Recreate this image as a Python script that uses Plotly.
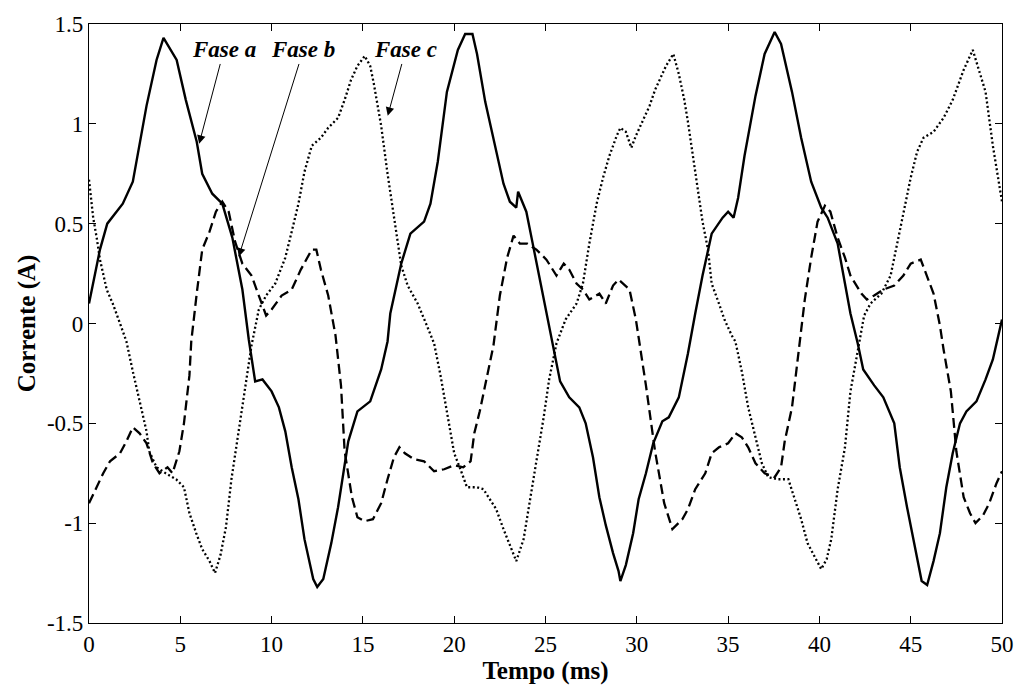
import plotly.graph_objects as go

# Phase a (solid)
t_a = [0.0, 0.6, 1.0, 1.85, 2.4, 3.15, 3.7, 4.08, 4.8, 5.3, 5.9, 6.2, 6.75, 7.3, 7.85, 8.4, 8.75,
       9.1, 9.5, 10.0, 10.4, 10.75, 11.1, 11.47, 11.8, 12.28, 12.5, 12.83, 13.27, 13.64, 14.2, 14.7,
       15.4, 16.0, 16.35, 16.5, 17.1, 17.6, 18.35, 18.7, 19.1, 19.6, 20.2, 20.6, 21.0, 21.25, 21.7,
       22.2, 22.7, 23.05, 23.4, 23.5, 23.95, 24.3, 24.7, 25.05, 25.4, 25.8, 26.3, 26.85, 27.2, 27.6,
       27.95, 28.3, 28.7, 29.0, 29.1, 29.4, 29.8, 30.1, 30.5, 30.9, 31.4, 31.75, 32.3, 32.8, 33.2,
       33.6, 34.1, 34.7, 35.0, 35.3, 35.55, 35.9, 36.5, 37.0, 37.55, 37.9, 38.5, 39.0, 39.55, 40.1,
       40.45, 41.0, 41.4, 41.7, 42.1, 42.4, 43.0, 43.5, 44.1, 44.4, 44.8, 45.2, 45.6, 45.9, 46.25,
       46.6, 46.95, 47.3, 47.7, 48.05, 48.6, 49.1, 49.5, 50.0]
i_a = [0.10, 0.37, 0.50, 0.60, 0.71, 1.09, 1.32, 1.43, 1.32, 1.12, 0.91, 0.75, 0.65, 0.60, 0.43, 0.17, -0.08,
       -0.29, -0.28, -0.34, -0.42, -0.54, -0.72, -0.88, -1.08, -1.28, -1.32, -1.28, -1.10, -0.92, -0.59, -0.44,
       -0.39, -0.23, -0.09, 0.05, 0.30, 0.45, 0.51, 0.60, 0.81, 1.16, 1.37, 1.45, 1.45, 1.35, 1.11,
       0.91, 0.70, 0.61, 0.58, 0.66, 0.56, 0.40, 0.22, 0.05, -0.11, -0.29, -0.37, -0.42, -0.50, -0.67,
       -0.87, -1.01, -1.15, -1.24, -1.29, -1.21, -1.05, -0.88, -0.75, -0.60, -0.49, -0.47, -0.37, -0.15, 0.05,
       0.24, 0.45, 0.53, 0.56, 0.53, 0.63, 0.84, 1.14, 1.35, 1.46, 1.40, 1.16, 0.93, 0.71, 0.58,
       0.53, 0.40, 0.20, 0.05, -0.10, -0.23, -0.31, -0.37, -0.50, -0.72, -0.92, -1.11, -1.29, -1.31, -1.19,
       -1.05, -0.82, -0.65, -0.50, -0.44, -0.39, -0.28, -0.18, 0.02]

# Phase b (dashed)
t_b = [0.0, 0.42, 0.78, 1.15, 1.7, 2.05, 2.4, 2.77, 3.15, 3.5, 3.86, 4.3, 4.57, 4.95, 5.2, 5.5, 5.6,
       5.9, 6.2, 6.6, 6.95, 7.3, 7.65, 8.0, 8.4, 8.9, 9.3, 9.7, 10.0, 10.55, 11.1, 11.6, 12.2, 12.45,
       12.7, 13.1, 13.5, 13.8, 14.0, 14.4, 14.7, 15.1, 15.55, 16.0, 16.35, 16.7, 17.0, 17.3, 17.8,
       18.35, 18.9, 19.45, 20.0, 20.5, 20.9, 21.1, 21.4, 21.8, 22.15, 22.5, 22.9, 23.25, 23.6, 24.0,
       24.5, 25.05, 25.6, 26.0, 26.3, 26.7, 27.05, 27.4, 27.95, 28.3, 28.7, 29.0, 29.6, 29.95, 30.15,
       30.5, 31.0, 31.5, 31.95, 32.5, 32.8, 33.2, 33.75, 34.1, 34.5, 35.0, 35.4, 35.75, 36.1, 36.5,
       37.0, 37.55, 37.9, 38.1, 38.5, 38.8, 38.9, 39.2, 39.55, 39.9, 40.3, 40.6, 41.0, 41.4, 41.7,
       42.3, 42.6, 43.0, 43.5, 44.1, 44.6, 45.0, 45.55, 45.9, 46.25, 46.6, 46.8, 47.2, 47.5, 47.9,
       48.25, 48.55, 48.97, 49.3, 49.7, 50.0]
i_b = [-0.90, -0.82, -0.75, -0.69, -0.65, -0.59, -0.52, -0.55, -0.60, -0.70, -0.75, -0.72, -0.75, -0.64, -0.50, -0.26, -0.09,
       0.15, 0.37, 0.46, 0.56, 0.61, 0.56, 0.41, 0.30, 0.24, 0.14, 0.04, 0.07, 0.14, 0.17, 0.27, 0.37, 0.37,
       0.27, 0.14, -0.06, -0.31, -0.64, -0.87, -0.97, -0.99, -0.98, -0.90, -0.78, -0.67, -0.62, -0.65, -0.68,
       -0.69, -0.74, -0.73, -0.71, -0.72, -0.69, -0.55, -0.44, -0.26, -0.11, 0.14, 0.33, 0.44, 0.40, 0.40,
       0.37, 0.32, 0.24, 0.30, 0.27, 0.20, 0.17, 0.12, 0.15, 0.10, 0.19, 0.22, 0.17, 0.02, -0.10,
       -0.31, -0.64, -0.90, -1.03, -0.98, -0.93, -0.83, -0.75, -0.65, -0.62, -0.60, -0.55, -0.57, -0.62, -0.70,
       -0.75, -0.77, -0.72, -0.59, -0.42, -0.19, -0.09, 0.12, 0.33, 0.51, 0.59, 0.56, 0.43, 0.33, 0.24,
       0.15, 0.12, 0.14, 0.17, 0.19, 0.24, 0.30, 0.32, 0.24, 0.15, -0.01, -0.13, -0.34, -0.64, -0.87,
       -0.95, -1.00, -0.96, -0.90, -0.80, -0.74]

# Phase c (dotted)
t_c = [0.0, 0.23, 0.42, 0.6, 0.97, 1.3, 1.7, 2.05, 2.4, 2.77, 3.15, 3.3, 3.7, 4.2, 4.77, 5.2, 5.5,
       5.87, 6.2, 6.6, 6.9, 7.2, 7.5, 7.8, 8.2, 8.6, 8.9, 9.3, 9.7, 10.2, 10.75, 11.1, 11.47, 11.8,
       12.2, 12.7, 13.1, 13.64, 14.0, 14.35, 14.7, 15.1, 15.4, 15.6, 16.0, 16.35, 16.7, 17.1, 17.45,
       18.0, 18.5, 18.9, 19.25, 19.6, 20.0, 20.3, 20.7, 21.25, 21.6, 21.95, 22.3, 22.7, 23.05, 23.4,
       23.8, 24.1, 24.5, 24.9, 25.2, 25.6, 26.1, 26.7, 27.05, 27.4, 27.8, 28.15, 28.5, 28.9, 29.1,
       29.4, 29.7, 29.95, 30.3, 30.7, 31.0, 31.6, 32.0, 32.3, 32.6, 32.8, 33.2, 33.6, 33.9, 34.1,
       34.5, 34.8, 35.2, 35.4, 35.75, 36.1, 36.5, 36.85, 37.2, 37.7, 38.3, 38.6, 39.0, 39.35, 39.7,
       40.1, 40.4, 40.65, 41.0, 41.4, 41.7, 42.0, 42.45, 42.8, 43.4, 43.9, 44.25, 44.6, 45.0, 45.35,
       45.7, 46.25, 46.8, 47.3, 47.9, 48.4, 48.8, 49.1, 49.5, 49.8, 50.0]
i_c = [0.72, 0.53, 0.43, 0.32, 0.17, 0.10, 0.00, -0.09, -0.24, -0.39, -0.54, -0.64, -0.72, -0.75, -0.78, -0.82, -0.95,
       -1.05, -1.13, -1.19, -1.25, -1.16, -1.02, -0.78, -0.54, -0.31, -0.11, 0.07, 0.14, 0.20, 0.33, 0.46, 0.60, 0.76,
       0.89, 0.93, 0.98, 1.03, 1.12, 1.22, 1.29, 1.34, 1.29, 1.20, 0.99, 0.75, 0.53, 0.29, 0.19,
       0.10, -0.01, -0.10, -0.26, -0.45, -0.65, -0.72, -0.82, -0.82, -0.83, -0.88, -0.93, -1.03, -1.11, -1.19,
       -1.08, -0.92, -0.69, -0.47, -0.28, -0.10, 0.02, 0.10, 0.20, 0.40, 0.60, 0.73, 0.84, 0.94, 0.98,
       0.96, 0.88, 0.94, 1.01, 1.09, 1.17, 1.29, 1.35, 1.25, 1.12, 1.01, 0.76, 0.51, 0.37, 0.20,
       0.10, 0.02, -0.06, -0.09, -0.24, -0.42, -0.57, -0.70, -0.77, -0.78, -0.78, -0.87, -0.98, -1.10, -1.16,
       -1.23, -1.18, -1.08, -0.83, -0.62, -0.34, -0.18, 0.04, 0.10, 0.15, 0.24, 0.40, 0.56, 0.73, 0.86,
       0.93, 0.96, 1.03, 1.12, 1.27, 1.37, 1.25, 1.16, 0.89, 0.71, 0.61]

x_ticks = [0, 5, 10, 15, 20, 25, 30, 35, 40, 45, 50]
y_ticks = [-1.5, -1, -0.5, 0, 0.5, 1, 1.5]
y_tick_text = ["-1.5", "-1", "-0.5", "0", "0.5", "1", "1.5"]

labels = ["Fase a", "Fase b", "Fase c"]
label_pos = [(7.39, 1.37), (11.74, 1.37), (17.34, 1.37)]
arrow_head = [(6.03, 0.90), (8.2, 0.335), (16.36, 1.04)]

FONT = "Times New Roman, Liberation Serif, serif"

fig = go.Figure()
fig.add_trace(go.Scatter(x=t_a, y=i_a, mode="lines", line=dict(color="black", width=2.4, dash="solid"), name="Fase a"))
fig.add_trace(go.Scatter(x=t_b, y=i_b, mode="lines", line=dict(color="black", width=2.3, dash="10px,5px"), name="Fase b"))
fig.add_trace(go.Scatter(x=t_c, y=i_c, mode="lines", line=dict(color="black", width=2.3, dash="2px,2.5px"), name="Fase c"))

for lab, (tx, ty), (hx, hy) in zip(labels, label_pos, arrow_head):
    fig.add_annotation(x=hx, y=hy, ax=tx, ay=ty, axref="x", ayref="y", xref="x", yref="y",
                       text="<b><i>" + lab + "</i></b>", showarrow=True, arrowhead=2, arrowsize=1.7,
                       arrowwidth=1, arrowcolor="black", font=dict(family=FONT, size=23, color="black"))

axis_common = dict(showline=True, linecolor="black", linewidth=1.2, mirror="ticks", ticks="inside",
                   ticklen=7, tickcolor="black", showgrid=False, zeroline=False,
                   tickfont=dict(family=FONT, size=23, color="black"))

fig.update_layout(
    width=1026, height=686,
    margin=dict(l=89, r=17, t=17, b=61),
    paper_bgcolor="white", plot_bgcolor="white",
    showlegend=False,
    xaxis=dict(range=[0, 50], tickvals=x_ticks, title=dict(text="<b>Tempo (ms)</b>", standoff=0,
               font=dict(family=FONT, size=25, color="black")), **axis_common),
    yaxis=dict(range=[-1.5, 1.5], tickvals=y_ticks, ticktext=y_tick_text,
               title=dict(text="<b>Corrente (A)</b>", standoff=4, font=dict(family=FONT, size=25, color="black")),
               **axis_common),
)

fig.write_html("out.html")
